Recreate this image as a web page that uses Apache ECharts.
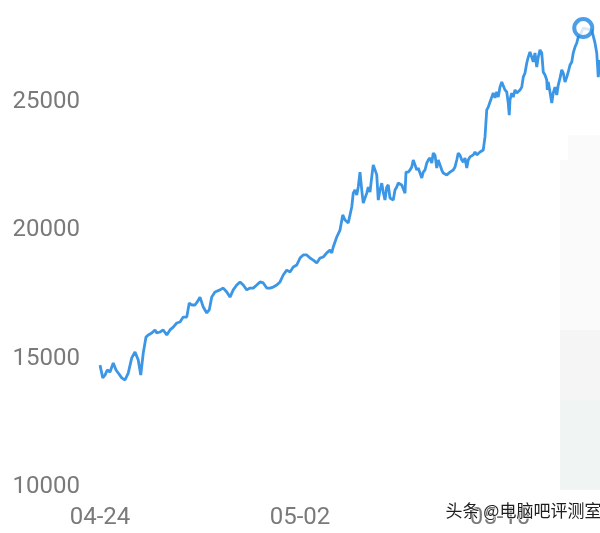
<!DOCTYPE html>
<html>
<head>
<meta charset="utf-8">
<script src="https://cdn.jsdelivr.net/npm/echarts@6/dist/echarts.min.js"></script>
<style>html,body{margin:0;padding:0;background:#fff;}#c{width:600px;height:533px;}</style>
</head>
<body>
<div id="c"></div>
<script>
// day offset from 04-24
var days = [0,0.11,0.2,0.29,0.4,0.53,0.64,0.73,0.87,1.0,1.13,1.27,1.4,1.53,1.63,1.73,1.84,1.93,2.07,2.2,2.27,2.4,2.53,2.67,2.8,2.93,3.07,3.2,3.33,3.47,3.57,3.67,3.8,3.89,4.0,4.13,4.27,4.37,4.47,4.6,4.8,
4.93,5.07,5.2,5.33,5.47,5.6,5.73,5.87,6.0,6.13,6.27,6.4,6.53,6.67,6.8,6.93,7.07,7.2,7.33,7.47,7.6,7.73,7.87,8.0,8.13,8.27,8.4,8.53,8.67,8.8,8.93,9.07,9.2,
9.27,9.33,9.47,9.6,9.71,9.8,9.93,10.07,10.13,10.2,10.27,10.33,10.4,10.47,10.53,10.6,10.67,10.73,10.8,10.87,10.93,11.0,11.07,11.13,11.2,11.27,11.33,11.4,11.47,11.53,11.6,11.73,11.8,11.87,11.93,12.0,12.07,12.13,12.2,12.24,12.33,12.4,12.47,12.53,12.6,12.67,12.73,12.8,12.87,12.93,13.0,13.07,13.13,13.2,13.27,13.33,13.4,13.47,13.53,13.6,13.67,13.73,13.8,13.87,13.93,14.0,14.07,14.13,14.2,14.27,14.33,14.4,14.47,14.53,14.6,14.67,14.73,14.8,
14.93,15.0,15.07,15.2,15.27,15.33,15.4,15.47,15.53,15.6,15.67,15.73,15.8,15.87,15.93,16.0,16.07,16.13,16.2,16.27,16.33,16.37,16.4,16.47,16.53,16.6,16.67,16.73,16.8,16.87,16.93,17.0,17.07,17.13,17.2,17.27,17.33,17.4,17.47,17.53,17.6,17.67,17.73,17.8,17.87,17.89,17.93,18.0,18.07,18.13,18.2,18.27,18.33,18.4,18.47,18.53,18.6,18.67,18.73,18.8,18.87,18.93,19.0,19.07,19.13,19.2,19.33,19.5,19.67,19.8,19.87,19.93,20.0];
var prices = [14750,14250,14360,14560,14480,14830,14560,14440,14250,14170,14440,15030,15260,14950,14360,15220,15840,15920,16000,16120,16000,16040,16120,15920,16120,16230,16390,16430,16620,16620,17170,17090,17090,17210,17400,17010,16780,16900,17400,17600,17680,
17750,17600,17400,17680,17870,17990,17870,17680,17750,17750,17870,17990,17950,17750,17750,17790,17870,17990,18260,18450,18380,18570,18650,18920,19040,19040,18920,18840,18730,18920,18960,19120,19230,
19120,19350,19740,20010,20600,20400,20290,20910,21450,21570,21380,21690,22270,21570,21060,20990,21450,21690,21490,22080,22550,22620,22160,21180,21570,21840,21490,21180,21690,21770,21260,21180,21570,21690,21840,21880,21770,21840,21450,22270,22270,22350,22470,22740,22550,22350,22430,22470,22040,22270,22350,22620,22740,22820,22620,23010,22930,22430,22740,22550,22350,22230,22160,22160,22230,22270,22270,22350,22470,22740,23010,22930,22740,22660,22820,22430,22740,22860,
22940,23050,22940,23050,23010,23130,23640,24690,24800,25000,25190,25350,25160,25390,25190,25580,25780,25740,25470,25390,24960,24490,25080,25350,25190,25470,25350,25390,25470,25580,25970,26130,26520,26750,26950,26750,26560,26910,26360,26750,27030,26910,26170,26050,25860,25470,25780,25390,24960,25350,25580,25270,25660,25930,26250,26130,25780,25970,26170,26440,26560,26910,27140,27300,27530,27610,27880,27840,27800,27300,26910,25970,26640];
var highlight = [19.33, 27880];
var xTickDays = [0, 8, 16];
var xTickLabels = ['04-24', '05-02', '05-10'];
var yTicks = [10000, 15000, 20000, 25000];

var lineData = days.map(function (d, i) { return [d, prices[i]]; });
var blue = '#3b96e6';
var chart = echarts.init(document.getElementById('c'), null, {renderer: 'canvas'});
chart.setOption({
  animation: false,
  backgroundColor: '#ffffff',
  textStyle: {fontFamily: 'Roboto'},
  grid: {left: 100, right: 0, top: 25, bottom: 46, containLabel: false},
  xAxis: {
    type: 'value', min: 0, max: 20, interval: 8,
    axisLine: {show: false}, axisTick: {show: false}, splitLine: {show: false},
    axisLabel: {
      fontSize: 24, color: '#7a7a7a', fontFamily: 'Roboto', margin: 19,
      showMaxLabel: false, hideOverlap: false,
      formatter: function (v) {
        var i = xTickDays.indexOf(Math.round(v));
        return i >= 0 ? xTickLabels[i] : '';
      }
    }
  },
  yAxis: {
    type: 'value', min: 10000, max: 28000, interval: 5000,
    axisLine: {show: false}, axisTick: {show: false}, splitLine: {show: false},
    axisLabel: {
      fontSize: 24, color: '#7a7a7a', fontFamily: 'Roboto', margin: 20, showMaxLabel: false,
      formatter: function (v) { return yTicks.indexOf(v) >= 0 ? String(v) : ''; }
    }
  },
  graphic: [
    {type: 'rect', z: -10, shape: {x: 568, y: 135, width: 32, height: 25}, style: {fill: '#fafafa'}},
    {type: 'rect', z: -10, shape: {x: 560, y: 160, width: 40, height: 170}, style: {fill: '#fafafa'}},
    {type: 'rect', z: -10, shape: {x: 560, y: 330, width: 40, height: 70}, style: {fill: '#f5f5f5'}},
    {type: 'rect', z: -10, shape: {x: 560, y: 400, width: 40, height: 90}, style: {fill: '#f0f5f4'}},
    {type: 'text', z: 100, left: 445, top: 502,
      style: {text: '头条 @电脑吧评测室', fontSize: 17, fontFamily: 'Noto Sans CJK SC', fill: '#1e1e1e', stroke: '#ffffff', lineWidth: 1}}
  ],
  series: [
    {
      type: 'line', data: lineData, showSymbol: false, symbol: 'none',
      lineStyle: {color: blue, width: 2.8}, itemStyle: {color: blue}, smooth: false
    },
    {
      type: 'scatter', data: [highlight], symbol: 'circle', symbolSize: 18, clip: false, z: 5,
      itemStyle: {color: '#ffffff', borderColor: '#1f86e0', borderWidth: 4}
    }
  ]
});
</script>
</body>
</html>
